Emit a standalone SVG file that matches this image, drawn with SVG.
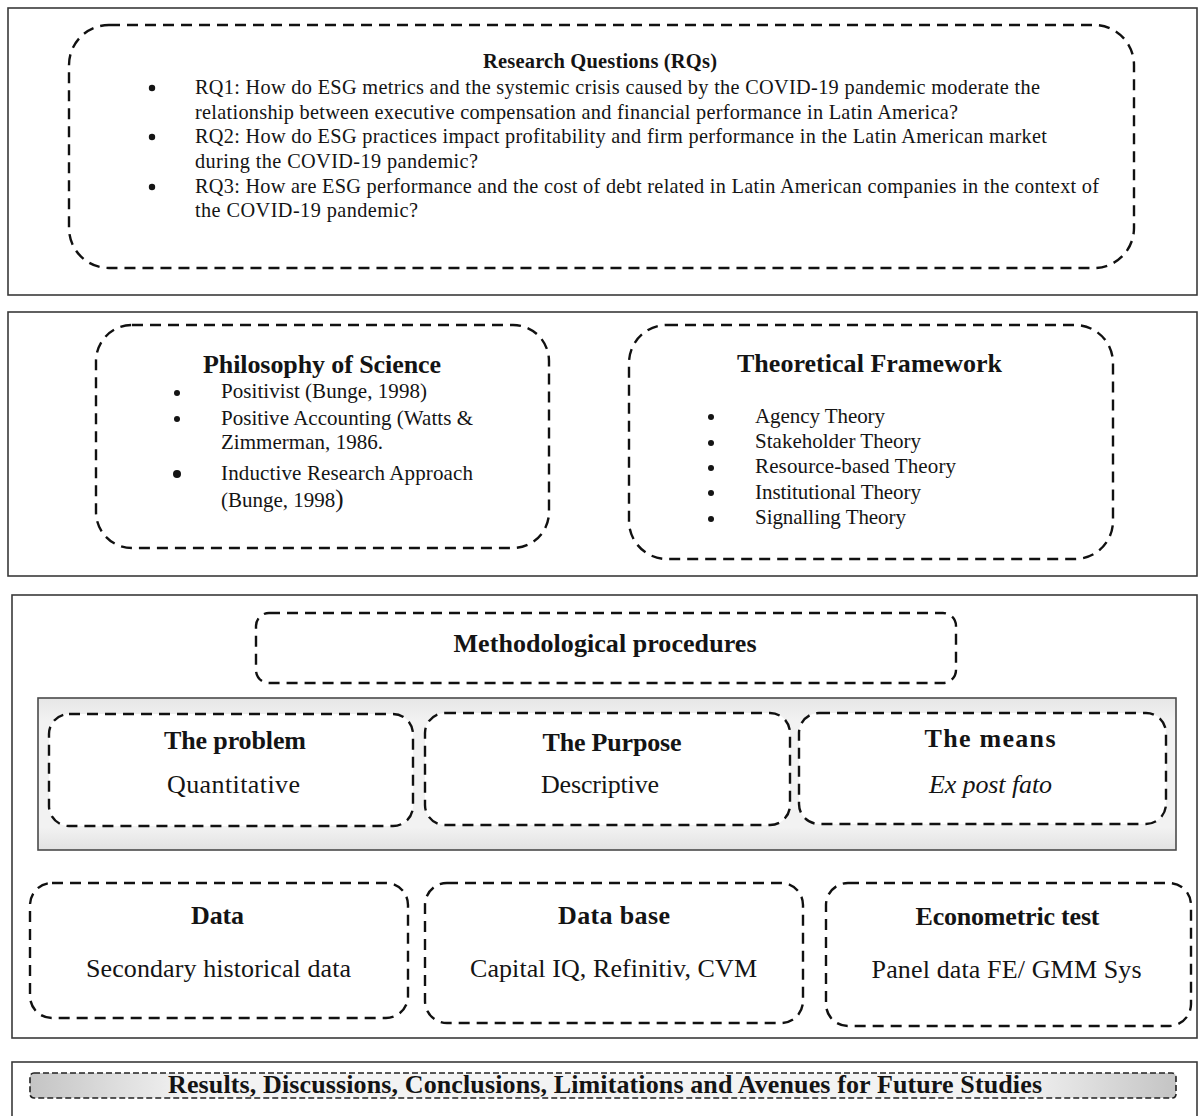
<svg xmlns="http://www.w3.org/2000/svg" width="1199" height="1116" viewBox="0 0 1199 1116">
  <defs>
    <linearGradient id="resultsFill" x1="0" y1="0" x2="1" y2="0">
      <stop offset="0" stop-color="#c4c4c4"/>
      <stop offset="0.14" stop-color="#f3f3f3"/>
      <stop offset="0.86" stop-color="#f3f3f3"/>
      <stop offset="1" stop-color="#c4c4c4"/>
    </linearGradient>
    <linearGradient id="bandFill" x1="0" y1="0" x2="0" y2="1">
      <stop offset="0" stop-color="#e6e6e6"/>
      <stop offset="0.15" stop-color="#f2f2f2"/>
      <stop offset="0.85" stop-color="#f2f2f2"/>
      <stop offset="1" stop-color="#e2e2e2"/>
    </linearGradient>
  </defs>
  <style>
    .panel { fill: #ffffff; stroke: #3a3a3a; stroke-width: 1.6; }
    .band { fill: url(#bandFill); stroke: #4a4a4a; stroke-width: 1.6; }
    .dash { fill: #ffffff; stroke: #111111; stroke-width: 2.4; stroke-dasharray: 11 7; }
    .dash-fine { fill: url(#resultsFill); stroke: #222222; stroke-width: 1.6; stroke-dasharray: 6 3; }
    text { font-family: "Liberation Serif", "Times New Roman", serif; fill: #141414; }
    .rq { font-size: 20.3px; }
    .rq-title { font-size: 20.5px; font-weight: bold; }
    .h { font-size: 26px; font-weight: bold; text-anchor: middle; }
    .b { font-size: 21px; }
    .body { font-size: 26px; text-anchor: middle; }
    .bullet { fill: #141414; }
  </style>

  <rect x="0" y="0" width="1199" height="1116" fill="#ffffff"/>

  <!-- Research questions -->
  <g id="research-questions">
    <rect class="panel" x="8" y="8" width="1189" height="287"/>
    <rect class="dash" x="69" y="25" width="1065" height="243" rx="40" ry="40"/>
    <text class="rq-title" x="600" y="68" text-anchor="middle" textLength="234">Research Questions (RQs)</text>
    <circle class="bullet" cx="152" cy="88" r="3.2"/>
    <circle class="bullet" cx="152" cy="137" r="3.2"/>
    <circle class="bullet" cx="152" cy="187" r="3.2"/>
    <text class="rq" x="195" y="94" textLength="845">RQ1: How do ESG metrics and the systemic crisis caused by the COVID-19 pandemic moderate the</text>
    <text class="rq" x="195" y="118.5" textLength="763">relationship between executive compensation and financial performance in Latin America?</text>
    <text class="rq" x="195" y="143" textLength="852">RQ2: How do ESG practices impact profitability and firm performance in the Latin American market</text>
    <text class="rq" x="195" y="168" textLength="283">during the COVID-19 pandemic?</text>
    <text class="rq" x="195" y="193" textLength="904">RQ3: How are ESG performance and the cost of debt related in Latin American companies in the context of</text>
    <text class="rq" x="195" y="217" textLength="223">the COVID-19 pandemic?</text>
  </g>

  <!-- Second band: philosophy and theory -->
  <rect class="panel" x="8" y="312" width="1189" height="264"/>

  <g id="philosophy-of-science">
    <rect class="dash" x="96" y="325" width="453" height="223" rx="36" ry="36"/>
    <text class="h" x="322" y="373" textLength="238">Philosophy of Science</text>
    <circle class="bullet" cx="177" cy="393" r="3"/>
    <circle class="bullet" cx="177" cy="419" r="3"/>
    <circle class="bullet" cx="177" cy="474" r="4"/>
    <text class="b" x="221" y="398" textLength="206">Positivist (Bunge, 1998)</text>
    <text class="b" x="221" y="425" textLength="252">Positive Accounting (Watts &amp;</text>
    <text class="b" x="221" y="449" textLength="162">Zimmerman, 1986.</text>
    <text class="b" x="221" y="480" textLength="252">Inductive Research Approach</text>
    <text class="b" x="221" y="507">(Bunge, 1998<tspan font-size="25px">)</tspan></text>
  </g>

  <g id="theoretical-framework">
    <rect class="dash" x="629" y="325" width="484" height="234" rx="38" ry="38"/>
    <text class="h" x="869.5" y="372" textLength="265">Theoretical Framework</text>
    <circle class="bullet" cx="711" cy="417" r="3"/>
    <circle class="bullet" cx="711" cy="443" r="3"/>
    <circle class="bullet" cx="711" cy="468" r="3"/>
    <circle class="bullet" cx="711" cy="493" r="3"/>
    <circle class="bullet" cx="711" cy="519" r="3"/>
    <text class="b" x="755" y="423" textLength="130">Agency Theory</text>
    <text class="b" x="755" y="448" textLength="166">Stakeholder Theory</text>
    <text class="b" x="755" y="473" textLength="201">Resource-based Theory</text>
    <text class="b" x="755" y="499" textLength="166">Institutional Theory</text>
    <text class="b" x="755" y="524" textLength="151">Signalling Theory</text>
  </g>

  <!-- Third band: methodological procedures -->
  <rect class="panel" x="12" y="595" width="1185" height="443"/>

  <g id="methodological-procedures">
    <rect class="dash" x="256" y="613" width="700" height="70" rx="13" ry="13"/>
    <text class="h" x="605" y="652" textLength="303">Methodological procedures</text>
  </g>

  <rect class="band" x="38" y="698" width="1138" height="152"/>

  <g id="the-problem">
    <rect class="dash" x="49" y="714" width="364" height="112" rx="20" ry="20"/>
    <text class="h" x="235" y="749" textLength="142">The problem</text>
    <text class="body" x="233.5" y="793" textLength="133">Quantitative</text>
  </g>

  <g id="the-purpose">
    <rect class="dash" x="425" y="713" width="365" height="112" rx="20" ry="20"/>
    <text class="h" x="612" y="751" textLength="139">The Purpose</text>
    <text class="body" x="600" y="793" textLength="118">Descriptive</text>
  </g>

  <g id="the-means">
    <rect class="dash" x="799" y="713" width="367" height="111" rx="20" ry="20"/>
    <text class="h" x="990" y="747" textLength="131">The means</text>
    <text class="body" x="990.5" y="793" font-style="italic" textLength="123">Ex post fato</text>
  </g>

  <g id="data">
    <rect class="dash" x="30" y="883" width="378" height="135" rx="22" ry="22"/>
    <text class="h" x="217.5" y="924" textLength="53">Data</text>
    <text class="body" x="218.5" y="977" textLength="265">Secondary historical data</text>
  </g>

  <g id="data-base">
    <rect class="dash" x="425" y="883" width="378" height="140" rx="22" ry="22"/>
    <text class="h" x="614" y="924" textLength="112">Data base</text>
    <text class="body" x="613.5" y="977" textLength="287">Capital IQ, Refinitiv, CVM</text>
  </g>

  <g id="econometric-test">
    <rect class="dash" x="826" y="883" width="365" height="143" rx="22" ry="22"/>
    <text class="h" x="1007.5" y="925" textLength="184">Econometric test</text>
    <text class="body" x="1006.6" y="978" textLength="270">Panel data FE/ GMM Sys</text>
  </g>

  <!-- Closing band -->
  <rect class="panel" x="12" y="1062" width="1185" height="70"/>

  <g id="results">
    <rect class="dash-fine" x="30" y="1073" width="1146" height="25" rx="4" ry="4"/>
    <text class="h" x="605" y="1093" font-size="24px" textLength="874">Results, Discussions, Conclusions, Limitations and Avenues for Future Studies</text>
  </g>

  <g id="connectors"/>
</svg>
